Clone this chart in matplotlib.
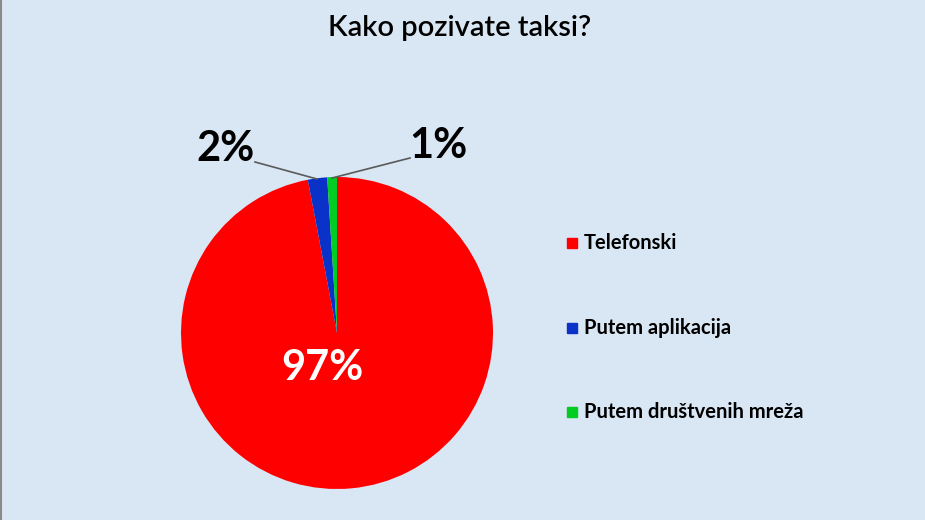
import matplotlib.pyplot as plt
from matplotlib.lines import Line2D

labels = ['Telefonski', 'Putem aplikacija', 'Putem društvenih mreža']
values = [97, 2, 1]
colors = ['#ff0000', '#0a32c8', '#00cc22']
pct_text = ['97%', '2%', '1%']

W, H = 925, 520
fig = plt.figure(figsize=(9.25, 5.2), dpi=100)
fig.patch.set_facecolor('#d9e6f3')
fig.add_artist(Line2D([0.5 / W, 0.5 / W], [0, 1], color='#8a8a8a', lw=1.5))

# pie: centre (337, 333) px, radius 156 px
cx, cy, r = 337, 333, 156
ax = fig.add_axes([(cx - r) / W, (H - cy - r) / H, 2 * r / W, 2 * r / H])
wedges, _ = ax.pie(values, colors=colors, startangle=90, counterclock=False,
                   wedgeprops=dict(linewidth=0))
ax.set_xlim(-1, 1)
ax.set_ylim(-1, 1)
ax.axis('off')

def px(x, y):
    return x / W, 1 - y / H

fnt = 'Lato'
fig.text(*px(460, 28), 'Kako pozivate taksi?', ha='center', va='center',
         fontsize=21, family=fnt, color='black', weight='semibold')

fig.text(*px(322, 368), pct_text[0], ha='center', va='center', fontsize=30,
         weight='bold', family=fnt, color='white')
fig.text(*px(225, 149), pct_text[1], ha='center', va='center', fontsize=30,
         weight='bold', family=fnt, color='black')
fig.text(*px(438, 146), pct_text[2], ha='center', va='center', fontsize=30,
         weight='bold', family=fnt, color='black')

# leader lines
for (x1, y1), (x2, y2) in [((255, 162), (317, 179)), ((410, 158), (332, 178))]:
    fig.add_artist(Line2D([x1 / W, x2 / W], [1 - y1 / H, 1 - y2 / H],
                          color='#5a5a5a', lw=1.2))

# legend
ys = [243, 328, 412]
for lab, col, y in zip(labels, colors, ys):
    fig.patches.append(plt.Rectangle(((567) / W, 1 - (y + 5) / H), 10 / W, 10 / H,
                                     transform=fig.transFigure, color=col))
    fig.text(*px(584, y), lab, ha='left', va='center', fontsize=14.5,
             weight='bold', family=fnt, color='black')

fig.savefig('out.png', dpi=100, facecolor=fig.get_facecolor())
